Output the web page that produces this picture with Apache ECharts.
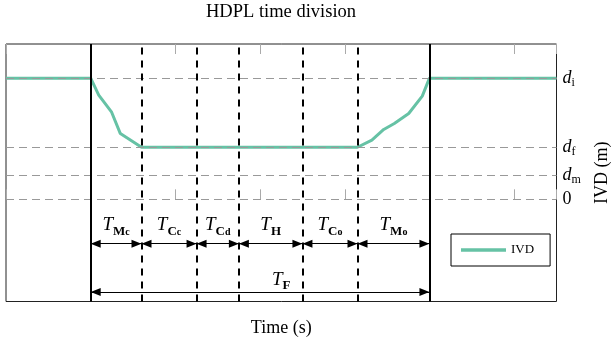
<!DOCTYPE html>
<html>
<head>
<meta charset="utf-8">
<script src="https://cdn.jsdelivr.net/npm/echarts@6/dist/echarts.min.js"></script>
<style>
  html, body { margin: 0; padding: 0; background: #fff; }
  #chart { width: 613px; height: 343px; }
</style>
</head>
<body>
<div id="chart"></div>
<script>
// IVD profile (time s, distance m)
const ivdTime = [0, 10, 10.95, 12.45, 13.5, 16, 41.5, 43.2, 44.6, 45.85, 47.55, 49.15, 50, 65];
const ivdDist = [10.08, 10.08, 8.67, 7.28, 5.47, 4.33, 4.33, 4.92, 5.81, 6.31, 7.14, 8.58, 10.08, 10.08];

// reference distances on the right axis
const levelValues = [10.08, 4.33, 2, 0];
const levelNames = [['d', 'i'], ['d', 'f'], ['d', 'm'], ['0', '']];

// phase boundaries (s); first and last are solid
const bounds = [10, 16, 22.5, 27.5, 35, 41.5, 50];
const phaseNames = [['M', 'c'], ['C', 'c'], ['C', 'd'], ['H', ''], ['C', 'o'], ['M', 'o']];
const phaseArrowY = -3.69;
const totalArrowY = -7.72;
const totalLabelPos = [32.5, -6.67];

const FONT = 'Liberation Serif';
const green = '#66c2a5';

const tRich = {
  t: { fontFamily: FONT, fontStyle: 'italic', fontSize: 19, color: '#000' },
  s: { fontFamily: FONT, fontWeight: 'bold', fontSize: 13, color: '#000', padding: [12, 0, 0, 0] },
  ss: { fontFamily: FONT, fontWeight: 'bold', fontSize: 10, color: '#000', padding: [15, 0, 0, 0] }
};
const dRich = {
  d: { fontFamily: FONT, fontStyle: 'italic', fontSize: 18, color: '#000' },
  n: { fontFamily: FONT, fontSize: 18, color: '#000' },
  s: { fontFamily: FONT, fontSize: 12, color: '#000', padding: [10, 0, 0, 0] }
};

function phaseLabel(p) {
  let str = '{t|T}{s|' + p[0] + '}';
  if (p[1]) str += '{ss|' + p[1] + '}';
  return str;
}

const hLines = levelValues.map(v => ({ yAxis: v }));
const vLines = bounds.map((b, i) => ({
  xAxis: b,
  lineStyle: (i === 0 || i === bounds.length - 1)
    ? { type: 'solid', width: 2, color: '#000' }
    : { type: [7, 6], width: 2, color: '#000' }
}));
const arrows = [];
for (let i = 0; i < bounds.length - 1; i++) {
  arrows.push([{ coord: [bounds[i], phaseArrowY] }, { coord: [bounds[i + 1], phaseArrowY] }]);
}
arrows.push([{ coord: [bounds[0], totalArrowY] }, { coord: [bounds[bounds.length - 1], totalArrowY] }]);

const chart = echarts.init(document.getElementById('chart'));
const xCommon = {
  type: 'value', min: 0, max: 65, interval: 10,
  axisLine: { show: false },
  axisTick: { inside: true, length: 10, lineStyle: { color: '#aaa' } },
  axisLabel: { show: false },
  splitLine: { show: false }
};
chart.setOption({
  animation: false,
  title: {
    text: 'HDPL time division',
    left: 281, top: 3, textAlign: 'center', padding: 0,
    textStyle: { fontFamily: FONT, fontSize: 18.5, fontWeight: 'normal', color: '#000' }
  },
  grid: {
    left: 6, right: 56.5, top: 44, bottom: 41.5,
    outerBoundsMode: 'none', containLabel: false,
    show: true, borderColor: '#222', borderWidth: 1, backgroundColor: 'transparent'
  },
  legend: {
    data: [{ name: 'IVD', icon: 'rect' }],
    left: 451, top: 234,
    itemWidth: 45, itemHeight: 3.5, itemGap: 5,
    padding: [9.5, 16, 9.5, 10],
    borderColor: '#000', borderWidth: 1, borderRadius: 0,
    textStyle: { fontFamily: FONT, fontSize: 13, color: '#000' }
  },
  xAxis: [
    Object.assign({}, xCommon, {
      position: 'bottom',
      name: 'Time (s)', nameLocation: 'middle', nameGap: 18,
      nameTextStyle: { fontFamily: FONT, fontSize: 18, color: '#000' }
    }),
    Object.assign({}, xCommon, { position: 'top' })
  ],
  yAxis: {
    type: 'value', min: -8.5, max: 12.92, position: 'right',
    name: 'IVD (m)', nameLocation: 'middle', nameRotate: 90, nameGap: 37,
    nameTextStyle: { fontFamily: FONT, fontSize: 18, color: '#000' },
    axisLine: { show: false }, axisTick: { show: false },
    axisLabel: { show: false }, splitLine: { show: false }
  },
  series: [
    {
      name: 'levels', type: 'line', data: [], z: 1, silent: true,
      markLine: {
        silent: true, symbol: 'none',
        lineStyle: { type: [8, 5], width: 1.2, color: '#999' },
        label: {
          show: true, position: 'end', distance: 6,
          formatter: p => {
            const n = levelNames[p.dataIndex];
            return n[1] ? '{d|' + n[0] + '}{s|' + n[1] + '}' : '{n|' + n[0] + '}';
          },
          rich: dRich
        },
        data: hLines
      }
    },
    {
      name: 'phases', type: 'line', data: [], z: 2, silent: true,
      markLine: {
        silent: true, symbol: 'none', label: { show: false },
        data: vLines
      }
    },
    {
      name: 'arrows', type: 'line', data: [], z: 4, silent: true,
      markLine: {
        silent: true,
        symbol: ['triangle', 'triangle'],
        symbolSize: [8, 10],
        symbolOffset: [[0, 5], [0, 5]],
        lineStyle: { type: 'solid', width: 1, color: '#000' },
        label: {
          show: true, position: 'insideMiddleTop', distance: 6,
          formatter: p => p.dataIndex < phaseNames.length ? phaseLabel(phaseNames[p.dataIndex]) : '',
          rich: tRich
        },
        data: arrows
      },
      markPoint: {
        silent: true, symbol: 'circle', symbolSize: 1,
        itemStyle: { color: 'rgba(0,0,0,0)' },
        label: { show: true, position: 'inside', formatter: phaseLabel(['F', '']), rich: tRich },
        data: [{ coord: totalLabelPos }]
      }
    },
    {
      name: 'IVD', type: 'line', z: 3,
      data: ivdTime.map((t, i) => [t, ivdDist[i]]),
      symbol: 'none',
      lineStyle: { color: green, width: 3 },
      itemStyle: { color: green }
    }
  ]
});
</script>
</body>
</html>
